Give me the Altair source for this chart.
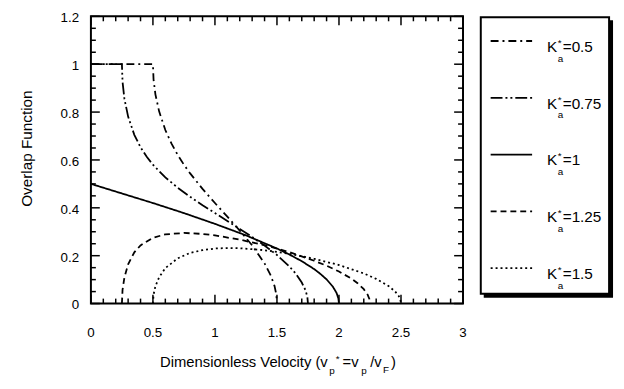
import altair as alt
import pandas as pd

# ---------------- data ----------------
series = ["0.5", "0.75", "1", "1.25", "1.5"]

k050_v = [0, 0.5, 0.505, 0.52, 0.55, 0.6, 0.65, 0.7, 0.75, 0.8, 0.9, 1.0, 1.1, 1.2, 1.3, 1.4, 1.45, 1.48, 1.495, 1.5]
k050_f = [1, 1, 0.936, 0.874, 0.803, 0.725, 0.668, 0.621, 0.580, 0.544, 0.479, 0.420, 0.363, 0.305, 0.243, 0.168, 0.117, 0.074, 0.037, 0]

k075_v = [0, 0.25, 0.255, 0.27, 0.3, 0.35, 0.4, 0.45, 0.5, 0.6, 0.7, 0.8, 0.9, 1.0, 1.1, 1.2, 1.3, 1.4, 1.5, 1.6, 1.65, 1.7, 1.73, 1.745, 1.75]
k075_f = [1, 1, 0.927, 0.856, 0.781, 0.705, 0.653, 0.613, 0.580, 0.527, 0.484, 0.446, 0.411, 0.378, 0.345, 0.312, 0.278, 0.242, 0.203, 0.155, 0.126, 0.088, 0.056, 0.028, 0]

k100_v = [0, 0.25, 0.5, 0.75, 1.0, 1.25, 1.5, 1.6, 1.7, 1.8, 1.85, 1.9, 1.95, 1.98, 1.995, 2.0]
k100_f = [0.5, 0.460, 0.420, 0.378, 0.333, 0.285, 0.230, 0.205, 0.177, 0.144, 0.124, 0.101, 0.071, 0.045, 0.022, 0]

k125_v = [0.25, 0.255, 0.27, 0.3, 0.35, 0.4, 0.5, 0.6, 0.75, 0.9, 1.0, 1.2, 1.4, 1.6, 1.8, 1.9, 2.0, 2.1, 2.15, 2.2, 2.23, 2.245, 2.25]
k125_f = [0, 0.057, 0.109, 0.164, 0.214, 0.243, 0.275, 0.289, 0.295, 0.291, 0.285, 0.267, 0.244, 0.215, 0.179, 0.158, 0.134, 0.104, 0.085, 0.060, 0.038, 0.019, 0]

k150_v = [0.5, 0.505, 0.52, 0.55, 0.6, 0.7, 0.8, 0.9, 1.0, 1.1, 1.2, 1.4, 1.6, 1.8, 2.0, 2.2, 2.3, 2.4, 2.45, 2.48, 2.495, 2.5]
k150_f = [0, 0.037, 0.072, 0.110, 0.148, 0.189, 0.212, 0.223, 0.230, 0.232, 0.231, 0.223, 0.208, 0.187, 0.161, 0.126, 0.103, 0.073, 0.052, 0.033, 0.016, 0]

x_tick_vals = [0, 0.5, 1, 1.5, 2, 2.5, 3]
x_tick_text = ["0", "0.5", "1", "1.5", "2", "2.5", "3"]
y_tick_vals = [0, 0.2, 0.4, 0.6, 0.8, 1.0, 1.2]
y_tick_text = ["0", "0.2", "0.4", "0.6", "0.8", "1", "1.2"]

rows = []
for name, vs, fs in zip(series, [k050_v, k075_v, k100_v, k125_v, k150_v],
                        [k050_f, k075_f, k100_f, k125_f, k150_f]):
    for i, (v, f) in enumerate(zip(vs, fs)):
        rows.append({"series": name, "v": v, "f": f, "order": i})
df = pd.DataFrame(rows)

# ---------------- layout / styling ----------------
OX, OY = 92, 14          # page position of the plot's top-left corner
W, H = 377, 291
PAD_L, PAD_T = OX - 8, OY - 8
FONT = "Liberation Sans, Arial, sans-serif"
dashes = [[8, 4, 2, 4], [12, 3, 2, 3, 2, 3], [1, 0], [6, 4], [2, 3]]
LW = 1.8

def px(x):
    return x - OX

def py(y):
    return y - OY

xscale = alt.Scale(domain=[0, 3], nice=False, zero=False)
yscale = alt.Scale(domain=[0, 1.2], nice=False, zero=False)

lines = alt.Chart(df).mark_line(color="black", strokeWidth=LW).encode(
    x=alt.X("v:Q", scale=xscale, axis=None),
    y=alt.Y("f:Q", scale=yscale, axis=None),
    strokeDash=alt.StrokeDash("series:N", scale=alt.Scale(domain=series, range=dashes), legend=None),
    order="order:Q",
)

# tick labels, placed through the scales
xlab = alt.Chart(pd.DataFrame({"t": x_tick_vals, "s": x_tick_text})).mark_text(
    font=FONT, fontSize=13.5, color="black", align="center", baseline="middle").encode(
    x=alt.X("t:Q", scale=xscale, axis=None), y=alt.value(py(335)), text="s:N")
ylab = alt.Chart(pd.DataFrame({"t": y_tick_vals, "s": y_tick_text})).mark_text(
    font=FONT, fontSize=13.5, color="black", align="right", baseline="middle", dy=2).encode(
    y=alt.Y("t:Q", scale=yscale, axis=None), x=alt.value(px(80)), text="s:N")

# inward tick marks on all four sides
x_major = [0, 0.5, 1, 1.5, 2, 2.5, 3]
x_minor = [round(i * 0.1, 2) for i in range(31) if round(i * 0.1, 2) not in x_major]
y_major = [0, 0.2, 0.4, 0.6, 0.8, 1.0, 1.2]
y_minor = [round(i * 0.05, 2) for i in range(25) if round(i * 0.05, 2) not in [round(v, 2) for v in y_major]]

def xticks(vals, length):
    d = pd.DataFrame({"t": vals})
    b = alt.Chart(d).mark_rule(color="black", strokeWidth=1.5).encode(
        x=alt.X("t:Q", scale=xscale, axis=None), y=alt.value(H), y2=alt.value(H - length))
    t = alt.Chart(d).mark_rule(color="black", strokeWidth=1.5).encode(
        x=alt.X("t:Q", scale=xscale, axis=None), y=alt.value(0), y2=alt.value(length))
    return [b, t]

def yticks(vals, length):
    d = pd.DataFrame({"t": vals})
    l = alt.Chart(d).mark_rule(color="black", strokeWidth=1.5).encode(
        y=alt.Y("t:Q", scale=yscale, axis=None), x=alt.value(0), x2=alt.value(length))
    r = alt.Chart(d).mark_rule(color="black", strokeWidth=1.5).encode(
        y=alt.Y("t:Q", scale=yscale, axis=None), x=alt.value(W), x2=alt.value(W - length))
    return [l, r]

ticks = xticks(x_major, 9) + xticks(x_minor, 5) + yticks(y_major, 9) + yticks(y_minor, 5)

one = pd.DataFrame({"k": [0]})

def text(s, x, y, size, angle=0, align="left", baseline="alphabetic"):
    """x, y in page pixels"""
    kw = dict(text=s, font=FONT, fontSize=size, color="black", align=align, baseline=baseline)
    if angle:
        kw["angle"] = angle
    return alt.Chart(one).mark_text(**kw).encode(x=alt.value(px(x)), y=alt.value(py(y)))

deco = []
# axis titles
deco.append(text("Overlap Function", 27, 148, 15.5, angle=270, align="center", baseline="middle"))
TB = 369
deco.append(text("Dimensionless Velocity (v", 162, TB, 15))
deco.append(text("p", 333.5, TB + 7, 10))
deco.append(text("*", 340, TB - 5, 10))
deco.append(text("=v", 347, TB, 15))
deco.append(text("p", 366, TB + 7, 10))
deco.append(text("/v", 375, TB, 15))
deco.append(text("F", 388, TB + 6, 10))
deco.append(text(")", 396, TB, 15))

# legend box with shadow
deco.append(alt.Chart(one).mark_rect(color="black").encode(
    x=alt.value(px(490)), x2=alt.value(px(621)), y=alt.value(py(18)), y2=alt.value(py(299))))
deco.append(alt.Chart(one).mark_rect(fill="white", stroke="black", strokeWidth=2).encode(
    x=alt.value(px(487)), x2=alt.value(px(617)), y=alt.value(py(15)), y2=alt.value(py(295))))

for i, name in enumerate(series):
    bl = 50 + i * 57.5
    deco.append(alt.Chart(one).mark_rule(color="black", strokeWidth=LW, strokeDash=dashes[i]).encode(
        x=alt.value(px(497)), x2=alt.value(px(539)), y=alt.value(py(bl - 11))))
    deco.append(text("K", 554, bl, 15.5))
    deco.append(text("a", 565, bl + 10, 10))
    deco.append(text("*", 565, bl - 6, 10))
    deco.append(text("=" + name, 570, bl, 15.5))

chart = alt.layer(lines, *ticks, xlab, ylab, *deco).properties(
    width=W, height=H,
    autosize=alt.AutoSizeParams(type="none"),
    padding={"left": PAD_L, "top": PAD_T, "right": 616 - PAD_L - W, "bottom": 372 - PAD_T - H},
).configure_view(stroke="black", strokeWidth=2)

chart.save("out.html", embed_options={"renderer": "svg", "actions": False})
